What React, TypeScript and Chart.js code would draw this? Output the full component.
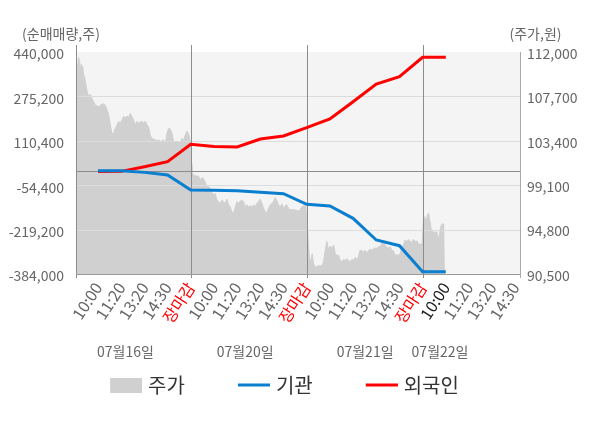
import React, { useEffect, useRef } from "react";
import { Chart, registerables } from "chart.js";

Chart.register(...registerables);

const FONT = '"Noto Sans CJK KR", "Noto Sans", sans-serif';

// x-axis tick labels (one per time slot)
const timeLabels = [
  "10:00", "11:20", "13:20", "14:30", "장마감",
  "10:00", "11:20", "13:20", "14:30", "장마감",
  "10:00", "11:20", "13:20", "14:30", "장마감",
  "10:00", "11:20", "13:20", "14:30",
];
const currentSlotIndex = 15;
const dateLabels = ["07월16일", "07월20일", "07월21일", "07월22일"];
const dateLabelSlots = [2.18, 7.35, 12.52, 15.75];
const dayBoundarySlots = [5, 10, 15];

const leftTicks = [440000, 275200, 110400, -54400, -219200, -384000];
const rightTicks = [112000, 107700, 103400, 99100, 94800, 90500];

// net buying (shares) at slots 1..16
const institution = [
  -1000, -1000, -6800, -16500, -72200,
  -73300, -74800, -80750, -85950, -125300,
  -131600, -177300, -257800, -279000, -375500,
  -375500,
];
const foreign = [
  -4000, -3000, 14300, 32800, 97400,
  89500, 87500, 117100, 128200, 159000,
  191300, 255500, 321200, 348300, 420300,
  420300,
];

// stock price (won), slot position of each reading
const priceSlots = [
  0.05, 0.12, 0.16, 0.21, 0.24, 0.28, 0.34, 0.38, 0.42, 0.48, 0.52, 0.59, 0.67, 0.74, 0.81, 0.88,
  1.03, 1.10, 1.24, 1.31, 1.39, 1.46, 1.53, 1.60, 1.67, 1.74, 1.82, 1.89, 1.96,
  2.03, 2.10, 2.18, 2.25, 2.32, 2.39, 2.46, 2.53, 2.61, 2.68, 2.75, 2.82, 2.89, 2.97,
  3.04, 3.11, 3.18, 3.25, 3.32, 3.40, 3.47, 3.54, 3.61, 3.68, 3.76, 3.83, 3.90, 3.97,
  4.04, 4.11, 4.19, 4.26, 4.40, 4.47, 4.55, 4.62, 4.69, 4.76, 4.83, 4.91, 4.98,
  5.00, 5.05, 5.08, 5.12, 5.22, 5.34, 5.41, 5.51, 5.59, 5.67, 5.77, 5.84, 5.91, 5.98,
  6.05, 6.13, 6.20, 6.27, 6.34, 6.41, 6.49, 6.56, 6.63, 6.70, 6.77, 6.84, 6.92, 6.99,
  7.06, 7.13, 7.20, 7.28, 7.35, 7.42, 7.49, 7.56, 7.63, 7.71, 7.78, 7.85, 7.92, 7.99,
  8.07, 8.14, 8.21, 8.28, 8.35, 8.43, 8.50, 8.57, 8.64, 8.71, 8.78, 8.86, 8.93,
  9.00, 9.07, 9.14, 9.22, 9.29, 9.36, 9.50, 9.65, 9.72, 9.79, 9.86, 9.96,
  10.02, 10.08, 10.12, 10.18, 10.24, 10.29, 10.37, 10.51, 10.65, 10.72, 10.80, 10.87, 10.94,
  11.01, 11.08, 11.16, 11.23, 11.30, 11.37, 11.44, 11.51, 11.59, 11.66, 11.73, 11.80, 11.87, 11.95,
  12.02, 12.09, 12.16, 12.23, 12.30, 12.38, 12.45, 12.52, 12.59, 12.66, 12.74, 12.81, 12.88, 12.95,
  13.02, 13.09, 13.17, 13.24, 13.31, 13.38, 13.45, 13.53, 13.60, 13.67, 13.74, 13.81, 13.89, 13.96,
  14.03, 14.10, 14.17, 14.24, 14.32, 14.39, 14.46, 14.53, 14.60, 14.68, 14.75, 14.82, 14.89, 14.98,
  15.03, 15.09, 15.15, 15.21, 15.26, 15.32, 15.39, 15.47, 15.54, 15.61, 15.67, 15.72, 15.78, 15.84, 15.93, 15.96,
];
const priceValues = [
  109900, 110700, 111500, 111050, 110250, 110800, 110600, 109750, 109600, 108800, 108300, 107700, 107900, 107500, 107200, 106850,
  106700, 106850, 107000, 106850, 106400, 105900, 104950, 104100, 104100, 104600, 104950, 105300, 105100,
  105400, 105750, 105650, 105800, 105650, 106050, 105750, 105400, 104950, 105300, 105100, 105200, 105300, 105100,
  105300, 104950, 104750, 103950, 103650, 103550, 103500, 103400, 103500, 103300, 103400, 103500, 103050, 104100,
  104600, 104550, 104100, 103300, 103300, 103250, 103200, 103650, 103400, 103950, 104350, 104050, 103300,
  101400, 101200, 100250, 100100, 100000, 99950, 99600, 99850, 99550, 99100, 98950, 98800, 98400, 98150,
  98300, 97650, 97500, 97350, 97650, 97500, 97350, 97750, 97200, 97000, 96550, 96300, 97000, 97500,
  97350, 97550, 97650, 97500, 97000, 97200, 97000, 97100, 97000, 97200, 97000, 97350, 97500, 97750,
  97350, 96850, 96550, 96450, 96850, 97200, 97350, 97500, 97900, 97600, 97200, 97000, 97300,
  96850, 97100, 97200, 96850, 96700, 96750, 96700, 96600, 96750, 97000, 97100, 97100,
  95400, 93150, 92000, 91850, 92450, 91550, 91150, 91300, 91300, 91600, 92800, 93650, 92800,
  93200, 93000, 93300, 92500, 92250, 92350, 91850, 91700, 91900, 91800, 92000, 91800, 91700, 91900,
  91850, 92100, 91900, 92200, 92800, 92750, 92650, 92800, 92550, 92750, 92900, 92800, 92950, 93000,
  93000, 93100, 93200, 93450, 93550, 93300, 93150, 93000, 93150, 92800, 92750, 92350, 92350, 92350,
  92450, 93150, 93300, 93800, 93650, 93850, 93650, 93550, 93850, 93650, 93700, 93450, 93350, 93450,
  95550, 96050, 95550, 96200, 96400, 95550, 94600, 94600, 94500, 94600, 93950, 94200, 95100, 95350, 95350, 95350,
];

const PRICE_COLOR = "#d0d0d0";
const INST_COLOR = "#0a7ecf";
const FOREIGN_COLOR = "#ff0000";

// legend key: box width reserved per item, swatch drawn at its right end
const KEY_W = 71;

function makeSwatch(kind: "box" | "line", color: string): HTMLCanvasElement {
  const c = document.createElement("canvas");
  c.width = KEY_W + 8;
  c.height = 15;
  const g = c.getContext("2d")!;
  g.fillStyle = color;
  const x0 = c.width - 32;
  if (kind === "box") g.fillRect(x0, 0, 32, 15);
  else g.fillRect(x0, 6, 32, 3);
  return c;
}

const fmt = (v: number) => v.toLocaleString("en-US");

export default function App() {
  const ref = useRef<HTMLCanvasElement | null>(null);

  useEffect(() => {
    document.body.style.margin = "0";
    const canvas = ref.current!;
    const swatches = [
      makeSwatch("box", PRICE_COLOR),
      makeSwatch("line", INST_COLOR),
      makeSwatch("line", FOREIGN_COLOR),
    ];

    const decor = {
      id: "decor",
      beforeDatasetsDraw(chart: any) {
        const { ctx, chartArea: a } = chart;
        ctx.save();
        ctx.fillStyle = "#f4f4f4";
        ctx.fillRect(a.left, a.top, a.right - a.left, a.bottom - a.top);
        ctx.restore();
      },
      afterDatasetDraw(chart: any, args: any) {
        if (args.index !== 0) return;
        const { ctx, chartArea: a, scales } = chart;
        const y = scales.y;
        const x = scales.x;
        const hline = (py: number, x0: number, x1: number) => {
          ctx.beginPath();
          ctx.moveTo(x0, py);
          ctx.lineTo(x1, py);
          ctx.stroke();
        };
        const vline = (px: number, y0: number, y1: number) => {
          ctx.beginPath();
          ctx.moveTo(px, y0);
          ctx.lineTo(px, y1);
          ctx.stroke();
        };
        ctx.save();
        ctx.lineWidth = 1;
        ctx.strokeStyle = "#dcdcdc";
        leftTicks.forEach((v) => {
          if (v === leftTicks[0] || v === leftTicks[leftTicks.length - 1]) return;
          hline(Math.round(y.getPixelForValue(v)) + 0.5, a.left, a.right);
        });
        ctx.strokeStyle = "#8c8c8c";
        hline(Math.round(y.getPixelForValue(0)) + 0.5, a.left, a.right);
        dayBoundarySlots.forEach((s) => {
          vline(Math.round(x.getPixelForValue(s)) + 0.5, a.top - 7, a.bottom + 4);
        });
        vline(Math.round(a.left) + 0.5, a.top - 7, a.bottom + 4);
        ctx.strokeStyle = "#9a9a9a";
        hline(Math.round(a.bottom) + 0.5, a.left, a.right);
        ctx.strokeStyle = "#aaaaaa";
        vline(Math.round(a.right) + 0.5, a.top, a.bottom + 4);
        ctx.restore();
      },
      afterDraw(chart: any) {
        const { ctx, chartArea: a, scales } = chart;
        ctx.save();
        ctx.font = `14px ${FONT}`;
        ctx.fillStyle = "#666";
        ctx.textAlign = "center";
        ctx.textBaseline = "middle";
        ctx.fillText("(순매매량,주)", a.left - 15, a.top - 18);
        ctx.fillText("(주가,원)", a.right + 15.5, a.top - 18);
        dateLabels.forEach((t, i) => {
          ctx.fillText(t, scales.x.getPixelForValue(dateLabelSlots[i]), a.bottom + 78);
        });
        ctx.restore();
      },
    };

    const chart = new Chart(canvas, {
      type: "line",
      data: {
        datasets: [
          {
            label: "주가",
            data: priceSlots.map((s, i) => ({ x: s, y: priceValues[i] })),
            yAxisID: "y1",
            borderColor: PRICE_COLOR,
            borderWidth: 1,
            backgroundColor: PRICE_COLOR,
            fill: "start",
            pointRadius: 0,
            tension: 0,
            order: 2,
          },
          {
            label: "기관",
            data: institution.map((v, i) => ({ x: i + 1, y: v })),
            yAxisID: "y",
            borderColor: INST_COLOR,
            borderWidth: 3,
            pointRadius: 0,
            fill: false,
            tension: 0,
            order: 0,
          },
          {
            label: "외국인",
            data: foreign.map((v, i) => ({ x: i + 1, y: v })),
            yAxisID: "y",
            borderColor: FOREIGN_COLOR,
            borderWidth: 3,
            pointRadius: 0,
            fill: false,
            tension: 0,
            order: 1,
          },
        ],
      },
      options: {
        responsive: false,
        animation: false,
        events: [],
        layout: { padding: { top: 52, left: -74, right: 0, bottom: 23 } },
        scales: {
          x: {
            type: "linear",
            min: 0.05,
            max: 19.2,
            grid: { display: false, drawTicks: false },
            border: { display: false },
            afterBuildTicks: (scale: any) => {
              scale.ticks = timeLabels.map((_, i) => ({ value: i + 1 }));
            },
            afterFit: (scale: any) => {
              scale.height = 91;
            },
            ticks: {
              autoSkip: false,
              maxRotation: 57,
              minRotation: 57,
              padding: 5,
              font: { family: FONT, size: 16 },
              color: (c: any) => {
                const lab = timeLabels[c.index];
                if (lab === "장마감") return "#ff0000";
                if (c.index === currentSlotIndex) return "#222222";
                return "#666666";
              },
              callback: (_v: any, i: number) => timeLabels[i],
            },
          },
          y: {
            type: "linear",
            position: "left",
            min: leftTicks[leftTicks.length - 1],
            max: leftTicks[0],
            grid: { display: false, drawTicks: false },
            border: { display: false },
            afterBuildTicks: (scale: any) => {
              scale.ticks = leftTicks.map((v) => ({ value: v }));
            },
            afterFit: (scale: any) => {
              scale.width = 150;
            },
            ticks: {
              padding: 12,
              labelOffset: 2,
              font: { family: FONT, size: 14 },
              color: "#666666",
              callback: (v: any) => fmt(Number(v)),
            },
          },
          y1: {
            type: "linear",
            position: "right",
            min: rightTicks[rightTicks.length - 1],
            max: rightTicks[0],
            grid: { display: false, drawTicks: false },
            border: { display: false },
            afterBuildTicks: (scale: any) => {
              scale.ticks = rightTicks.map((v) => ({ value: v }));
            },
            afterFit: (scale: any) => {
              scale.width = 80;
            },
            ticks: {
              padding: 7,
              labelOffset: 1.5,
              font: { family: FONT, size: 14 },
              color: "#666666",
              callback: (v: any) => fmt(Number(v)),
            },
          },
        },
        plugins: {
          tooltip: { enabled: false },
          legend: {
            display: true,
            position: "bottom",
            labels: {
              usePointStyle: true,
              pointStyleWidth: KEY_W,
              boxHeight: 15,
              padding: 10,
              color: "#333333",
              font: { family: FONT, size: 20 },
              sort: (a: any, b: any) => a.datasetIndex - b.datasetIndex,
              generateLabels: (ch: any) =>
                ch.data.datasets.map((ds: any, i: number) => ({
                  text: ds.label,
                  pointStyle: swatches[i],
                  datasetIndex: i,
                  hidden: false,
                  fontColor: "#333333",
                  lineWidth: 0,
                  strokeStyle: "rgba(0,0,0,0)",
                  fillStyle: "rgba(0,0,0,0)",
                })),
            },
          },
        },
      },
      plugins: [decor],
    } as any);

    return () => chart.destroy();
  }, []);

  return (
    <div style={{ width: 600, height: 428 }}>
      <canvas ref={ref} width={600} height={428} style={{ display: "block" }} />
    </div>
  );
}
